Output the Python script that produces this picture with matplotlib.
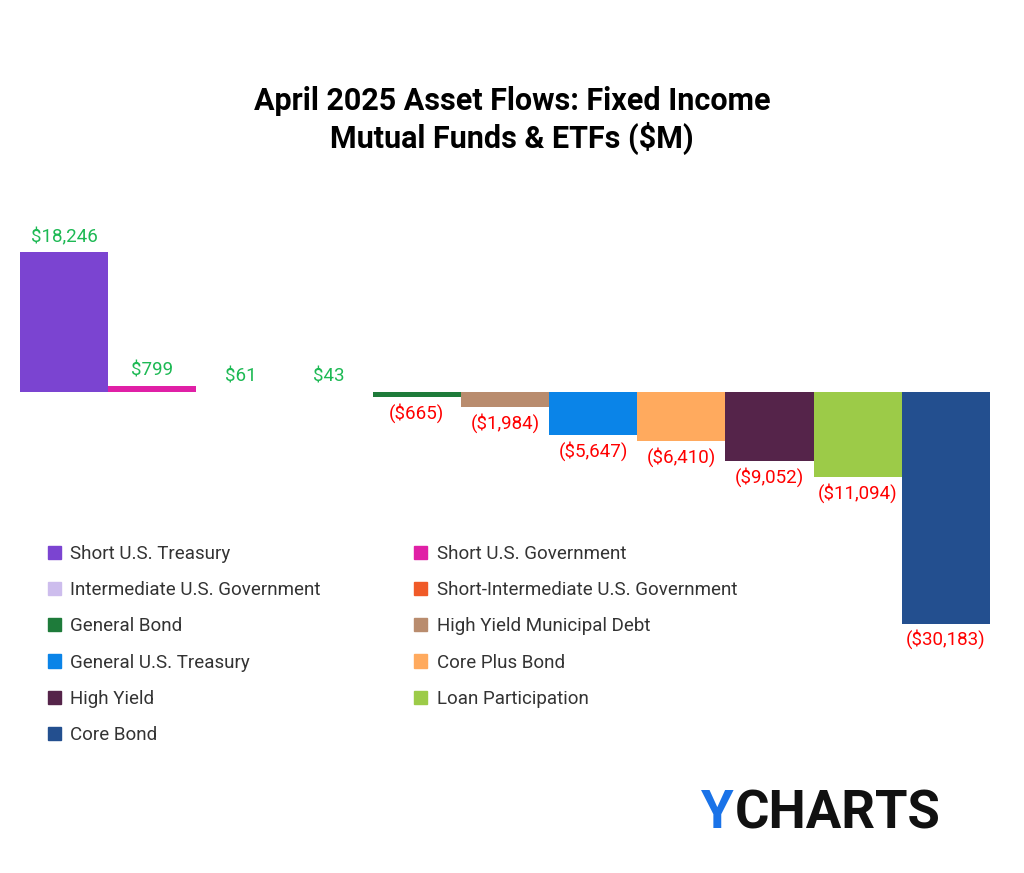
import matplotlib
matplotlib.use("Agg")
import matplotlib.pyplot as plt
from matplotlib.patches import Patch

categories = ["Short U.S. Treasury", "Short U.S. Government", "Intermediate U.S. Government",
              "Short-Intermediate U.S. Government", "General Bond", "High Yield Municipal Debt",
              "General U.S. Treasury", "Core Plus Bond", "High Yield", "Loan Participation", "Core Bond"]
flows = [18246, 799, 61, 43, -665, -1984, -5647, -6410, -9052, -11094, -30183]
colors = ["#7B44D1", "#E020A6", "#CDBDED", "#F05A28", "#1E7B3A", "#B98C6E",
          "#0A84E8", "#FFAA5E", "#55244A", "#9CCB48", "#234F8F"]

plt.rcParams["font.family"] = "Roboto"
fig = plt.figure(figsize=(10.24, 8.73), dpi=100)
ax = fig.add_axes([20 / 1024, 173 / 873, 970 / 1024, 500 / 873])
x = range(len(flows))
ax.bar(x, flows, width=1.0, color=colors)
ax.set_xlim(-0.5, len(flows) - 0.5)
ax.set_ylim(-40150, 25030)
ax.axis("off")

for i, v in enumerate(flows):
    if v >= 0:
        ax.text(i, v + 800, f"${v:,}", ha="center", va="bottom", color="#1DB954", fontsize=13.5)
    else:
        ax.text(i, v - 800, f"(${-v:,})", ha="center", va="top", color="#FF0000", fontsize=13.5)

fig.text(0.5, 0.862, "April 2025 Asset Flows: Fixed Income\nMutual Funds & ETFs ($M)",
         ha="center", va="center", fontsize=22, fontweight="bold", linespacing=1.25)

handles = [Patch(color=c, label=l) for c, l in zip(colors, categories)]
order = [0, 2, 4, 6, 8, 10, 1, 3, 5, 7, 9]
fig.legend([handles[i] for i in order], [categories[i] for i in order], ncol=2,
           loc="upper left", bbox_to_anchor=(0.03, 0.395), frameon=False, fontsize=13.5,
           handlelength=0.7, handleheight=0.7, handletextpad=0.5, columnspacing=5.0,
           labelspacing=0.97, labelcolor="#333333")

fig.text(0.685, 0.068, "Y", color="#1A73E8", fontsize=38, fontweight="bold", va="center")
fig.text(0.718, 0.068, "CHARTS", color="#111111", fontsize=38, fontweight="bold", va="center")

fig.savefig("out.png", dpi=100)
